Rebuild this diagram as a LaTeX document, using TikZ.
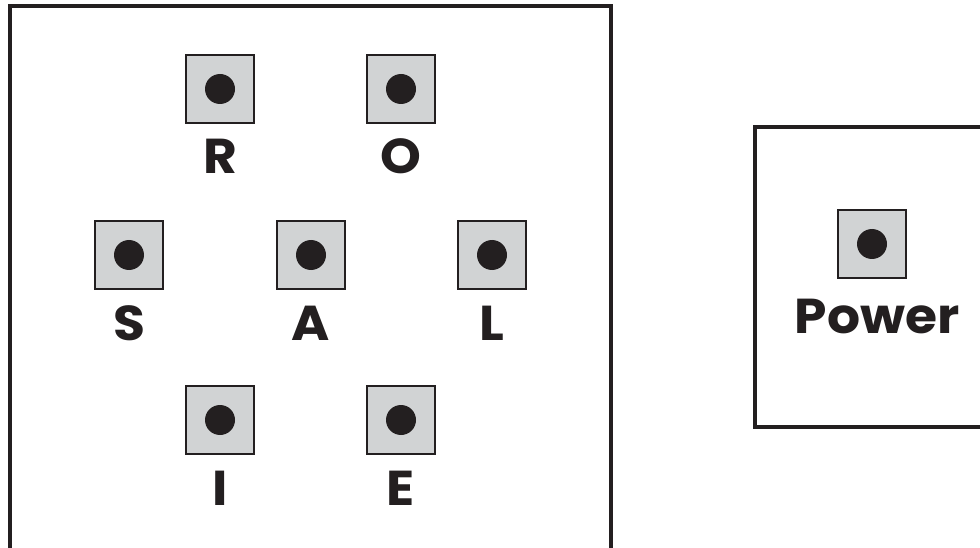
\documentclass[tikz,border=0pt]{standalone}
\usepackage{fontspec}
\setmainfont{Poppins}[BoldFeatures={FakeStretch=1.06}]
\usepackage{tikz}
\usetikzlibrary{positioning,calc}

\definecolor{ink}{HTML}{231F20}
\definecolor{keygray}{HTML}{D1D3D4}

\begin{document}
\begin{tikzpicture}[
  x=1pt, y=-1pt,
  frame/.style={draw=ink, line width=4pt},
  keybox/.style={draw=ink, line width=1.5pt, fill=keygray,
                 minimum width=68pt, minimum height=68pt, inner sep=0pt},
  keydot/.style={circle, fill=ink, minimum size=30pt, inner sep=0pt},
  keylbl/.style={font=\fontsize{49}{49}\selectfont\bfseries, text=ink,
                 anchor=base, inner sep=0pt}
]
\useasboundingbox (0,0) rectangle (980,548);
\clip (0,0) rectangle (980,548);

% --- outer frames -------------------------------------------------------
\draw[frame] (10,6) rectangle (611,552);
\draw[frame] (755,127) rectangle (992,427);

% --- letter keys --------------------------------------------------------
\foreach \n/\x/\y/\t in {r/220/89/R, o/401/89/O,
                         s/129/255/S, a/311/255/A, l/492/255/L,
                         i/220/420/I, e/401/420/E}{%
  \node[keybox] (key\n) at (\x,\y) {};
  \node[keydot] at (key\n.center) {};
  \node[keylbl] (lbl\n) at ($(key\n.center)+(0,85)$) {\t};
}

% --- power key ----------------------------------------------------------
\node[keybox] (keypwr) at (872,244) {};
\node[keydot] at (keypwr.center) {};
\node[keylbl] (lblpwr) at ($(keypwr.center)+(5,89)$) {Power};

\end{tikzpicture}
\end{document}
